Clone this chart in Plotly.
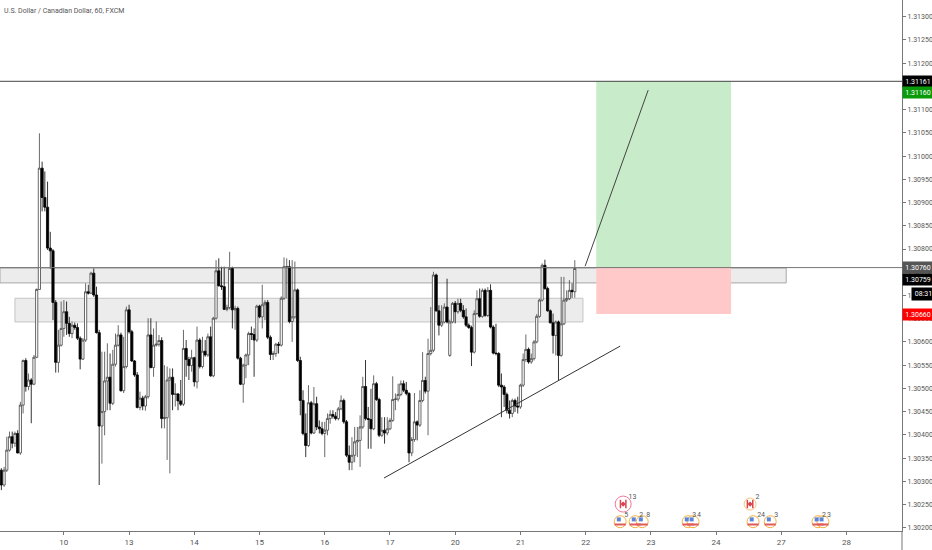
import plotly.graph_objects as go

# prices are kept as points above 1.30000 (324 -> 1.30324), one entry per 60 minute bar
opens = [324,292,324,367,396,382,403,361,464,560,504,518,509,567,713,974,911,890,802,796,
         685,556,593,629,665,640,618,636,631,608,563,604,708,705,748,701,620,419,450,516,
         524,468,552,593,615,495,547,669,622,559,529,459,479,462,482,615,545,593,595,603,
         435,437,518,524,487,488,473,466,586,562,549,566,514,604,547,580,572,611,527,651,
         753,721,719,670,674,758,669,672,565,509,550,572,618,616,604,677,654,680,685,610,
         573,575,595,593,694,762,762,644,654,712,560,474,403,377,469,404,467,417,413,403,
         410,435,444,440,435,456,474,428,356,341,356,385,388,417,504,435,433,413,510,476,
         399,410,404,413,431,476,477,487,510,496,489,361,390,428,421,474,517,494,575,582,
         744,667,636,643,675,571,643,683,665,683,668,654,636,631,578,661,693,655,711,657,
         711,632,576,575,507,503,487,453,446,474,462,460,507,562,584,557,564,600,655,690,
         765,715,667,641,614,643,571,639,690,693,711,708]
highs = [328,331,396,407,407,407,410,471,562,565,532,522,572,715,1049,988,967,945,837,800,
         690,626,687,690,687,654,644,642,640,612,608,726,723,751,758,719,626,579,579,597,
         575,583,618,636,620,611,676,680,626,561,535,493,484,486,651,651,629,644,615,610,
         550,547,543,543,511,490,518,626,604,568,583,568,633,608,611,604,618,633,654,776,
         780,762,762,680,794,762,678,676,568,553,575,622,633,629,680,680,723,690,690,614,
         580,598,600,698,782,780,776,776,773,715,568,496,446,507,473,503,482,431,428,428,
         446,453,453,449,460,485,478,432,377,395,417,417,442,525,561,460,499,528,514,480,
         438,438,438,436,526,489,510,517,517,514,492,395,490,431,496,578,525,607,675,751,
         747,679,679,683,736,648,686,688,693,693,679,672,640,635,668,711,715,715,715,718,
         724,636,639,578,532,507,491,474,478,478,482,510,575,616,588,575,604,660,693,769,
         777,719,670,661,646,646,740,740,711,733,726,776]
lows = [281,288,320,364,371,374,360,357,446,493,496,425,507,565,712,881,881,798,758,647,
        534,534,590,611,615,611,608,626,604,541,561,600,702,703,697,618,292,338,399,453,
        453,464,547,590,493,490,543,618,557,525,457,453,453,452,478,543,525,590,590,414,
        414,346,317,453,461,453,462,462,525,518,536,504,500,543,543,568,568,525,524,648,
        719,712,669,666,670,629,626,562,507,469,522,550,604,525,600,651,629,647,606,561,
        561,568,575,590,690,694,640,600,650,557,442,399,352,374,401,402,410,403,399,352,
        399,424,435,431,431,453,424,352,324,324,341,352,331,413,431,370,370,410,473,395,
        395,381,399,410,428,453,472,483,492,485,341,354,385,388,417,470,489,399,571,578,
        665,614,632,640,640,568,640,640,661,664,650,632,628,548,575,658,652,652,654,654,
        629,573,571,503,438,460,446,435,438,449,446,456,503,557,553,553,560,597,652,687,
        712,665,640,575,571,517,568,636,686,690,695,695]
closes = [292,324,367,396,382,403,361,464,560,504,518,509,567,713,974,911,890,802,796,685,
          556,593,629,665,640,618,636,631,608,563,604,708,705,748,701,620,419,450,516,524,
          468,552,593,615,495,547,669,622,559,529,459,479,462,482,615,545,593,595,603,435,
          437,518,524,487,488,473,466,586,562,549,566,514,604,547,580,572,611,527,651,753,
          721,719,670,674,758,669,672,565,509,550,572,618,616,604,677,654,680,685,610,573,
          575,595,593,694,762,762,644,654,712,560,474,403,377,469,404,467,417,413,403,410,
          435,444,440,435,456,474,428,356,341,356,385,388,417,504,435,433,413,510,476,399,
          410,404,413,431,476,477,487,510,496,489,361,390,428,421,474,517,494,575,582,744,
          667,636,643,675,643,643,683,665,683,668,654,636,631,578,661,693,655,711,657,711,
          632,576,575,507,503,487,453,446,474,462,460,507,562,584,557,564,600,655,690,765,
          715,667,641,614,643,571,639,690,693,711,708,758]

day_ticks = [23,47,71,95,119,143,167,191,215,239,263,287,311]
day_labels = ["10","13","14","15","16","17","20","21","22","23","24","27","28"]

price_ticks = [1.302,1.3025,1.303,1.3035,1.304,1.3045,1.305,1.3055,1.306,1.3065,1.307,1.3075,
               1.308,1.3085,1.309,1.3095,1.310,1.3105,1.311,1.3115,1.312,1.3125,1.313]

# labels sitting on the price scale, the second of a close pair is pushed down
tag_prices = [1.30660,1.31161,1.31160,1.30760,1.30759]
tag_colors = ["#ff0000","#000000","#0a9a0a","#555555","#000000"]
tag_shifts = [0,0,-11,0,-11]

# economic calendar markers
us_bars = [227.7,233.2,235.8,252.7,254.5,276.6,282.9,300.5,302.3]
us_counts = ["5","2","8","3","4","24","3","2","3"]
ca_bars = [228.8,275.5]
ca_counts = ["13","2"]

bars = list(range(len(opens)))
label_font = "Roboto, Arial, sans-serif"


def price(points):
    return [round(1.3 + p / 100000, 5) for p in points]


fig = go.Figure()

fig.add_trace(go.Candlestick(
    x=bars, open=price(opens), high=price(highs), low=price(lows), close=price(closes),
    whiskerwidth=0,
    increasing=dict(line=dict(color="#444444", width=0.8), fillcolor="#ffffff"),
    decreasing=dict(line=dict(color="#000000", width=0.8), fillcolor="#000000"),
    showlegend=False,
))

# calendar circles
fig.add_trace(go.Scatter(x=us_bars, y=[1.30213] * len(us_bars), mode="markers", showlegend=False,
                         marker=dict(size=12, color="#ffffff", line=dict(color="#f5b041", width=1))))
fig.add_trace(go.Scatter(x=us_bars, y=[1.30207] * len(us_bars), mode="markers", showlegend=False,
                         marker=dict(size=8, symbol="line-ew", line=dict(color="#e05a5a", width=2))))
fig.add_trace(go.Scatter(x=[b - 0.5 for b in us_bars], y=[1.30218] * len(us_bars), mode="markers", showlegend=False,
                         marker=dict(size=4, symbol="square", color="#5b84d6")))
fig.add_trace(go.Scatter(x=ca_bars, y=[1.30251] * len(ca_bars), mode="markers", showlegend=False,
                         marker=dict(size=[16, 12], color="#ffffff", line=dict(color=["#e8436e", "#f5b041"], width=1))))
fig.add_trace(go.Scatter(x=ca_bars, y=[1.30251] * len(ca_bars), mode="markers", showlegend=False,
                         marker=dict(size=4, symbol="diamond", color="#d9434e")))
fig.add_trace(go.Scatter(x=[b - 1 for b in ca_bars] + [b + 1 for b in ca_bars], y=[1.30251] * 4,
                         mode="markers", showlegend=False,
                         marker=dict(size=6, symbol="line-ns", line=dict(color="#d9434e", width=1.5))))
fig.add_trace(go.Scatter(x=[b + 1.5 for b in us_bars], y=[1.30226] * len(us_bars), mode="text", showlegend=False,
                         text=us_counts, textposition="middle right",
                         textfont=dict(size=7, color="#555555", family=label_font)))
fig.add_trace(go.Scatter(x=[b + 2 for b in ca_bars], y=[1.30265] * len(ca_bars), mode="text", showlegend=False,
                         text=ca_counts, textposition="middle right",
                         textfont=dict(size=7, color="#555555", family=label_font)))

# support zones, long position box and the drawn lines
fig.add_shape(type="rect", x0=-0.5, x1=288.8, y0=1.30727, y1=1.30759, layer="below",
              fillcolor="#ececec", line=dict(color="#a8a8a8", width=1))
fig.add_shape(type="rect", x0=5, x1=214, y0=1.30643, y1=1.30694, layer="below",
              fillcolor="#ececec", line=dict(color="#c4c4c4", width=1))
fig.add_shape(type="rect", x0=218.9, x1=268.5, y0=1.3076, y1=1.31161, layer="below",
              fillcolor="#c8ebc9", line=dict(width=0))
fig.add_shape(type="rect", x0=218.9, x1=268.5, y0=1.3066, y1=1.3076, layer="below",
              fillcolor="#ffc9c9", line=dict(width=0))
fig.add_shape(type="line", x0=-0.5, x1=331.4, y0=1.31161, y1=1.31161, line=dict(color="#444444", width=1))
fig.add_shape(type="line", x0=-0.5, x1=331.4, y0=1.3076, y1=1.3076, line=dict(color="#777777", width=1))
fig.add_shape(type="line", x0=140.8, x1=227.7, y0=1.30307, y1=1.30591, line=dict(color="#333333", width=1))
fig.add_shape(type="line", x0=214.8, x1=238, y0=1.30763, y1=1.31142, line=dict(color="#444444", width=1))
# price scale runs down past the time axis
fig.add_shape(type="line", xref="paper", yref="paper", x0=1, x1=1, y0=-0.036, y1=0,
              line=dict(color="#777777", width=1))

for p, c, s in zip(tag_prices, tag_colors, tag_shifts):
    fig.add_annotation(x=1, xref="paper", y=p, yref="y", yshift=s, xanchor="left", yanchor="middle", showarrow=False,
                       text="%.5f" % p, width=30, height=11, bgcolor=c, borderpad=0,
                       font=dict(size=7, color="#ffffff", family=label_font))
fig.add_annotation(x=1, xref="paper", xshift=9, y=1.30703, yref="y", showarrow=False,
                   xanchor="left", yanchor="middle", text="08:31", width=21, height=10, bgcolor="#000000",
                   font=dict(size=7, color="#ffffff", family=label_font))

fig.add_annotation(x=0, xref="paper", y=1, yref="paper", xshift=2, yshift=-5, xanchor="left", yanchor="top",
                   showarrow=False, text="U.S. Dollar / Canadian Dollar, 60, FXCM",
                   font=dict(size=7, color="#555555", family=label_font))

fig.update_layout(
    width=932, height=550, autosize=False,
    margin=dict(l=0, r=30, t=0, b=19),
    paper_bgcolor="#ffffff", plot_bgcolor="#ffffff",
    font=dict(family=label_font, size=7, color="#555555"),
    showlegend=False,
    boxgap=0.1, boxgroupgap=0.1,
)
fig.update_xaxes(range=[-0.5, 331.4], rangeslider_visible=False, showgrid=False, zeroline=False,
                 tickmode="array", tickvals=day_ticks, ticktext=day_labels,
                 showline=True, linecolor="#777777", linewidth=1,
                 ticks="outside", ticklen=3, tickcolor="#777777", tickfont=dict(size=8, color="#555555"))
fig.update_yaxes(range=[1.30193, 1.31336], side="right", showgrid=False, zeroline=False,
                 tickmode="array", tickvals=price_ticks, ticktext=["%.5f" % t for t in price_ticks],
                 showline=True, linecolor="#777777", linewidth=1,
                 ticks="outside", ticklen=3, tickcolor="#777777", tickfont=dict(size=7, color="#555555"))

fig.write_html("out.html", config={"displayModeBar": False},
               post_script="document.body.style.margin='0';document.body.style.overflow='hidden';")
